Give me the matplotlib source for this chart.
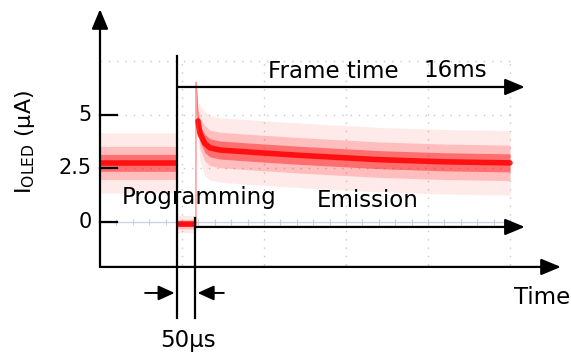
import numpy as np
import matplotlib.pyplot as plt

plt.rcParams['font.family'] = ['DejaVu Sans']

# Trace (time in grid divisions, current in uA)
trace_t = [0.0, 0.94, 0.94, 1.17, 1.17, 1.195, 1.22, 1.28, 1.34, 1.46, 1.83, 2.44, 3.4, 4.2, 5.0]
trace_i = [2.75, 2.75, -0.1, -0.1, 6.5, 4.7, 4.1, 3.65, 3.45, 3.35, 3.25, 3.1, 2.9, 2.8, 2.75]
trace_noise = [1.4, 1.4, 0.4, 0.4, 0.2, 0.9, 1.3, 1.5, 1.5, 1.5, 1.5, 1.5, 1.5, 1.5, 1.5]

ytick_vals = [0, 2.5, 5]
ytick_labels = ['0', '2.5', '5']
prog_start, prog_end = 0.94, 1.16
frame_end = 5.18

fig = plt.figure(figsize=(5.71, 3.57), dpi=100)
ax = fig.add_axes([0, 0, 1, 1])
# 82 px per division in x, 21.5 px per uA in y
ax.set_xlim(-100 / 82, 471 / 82)
ax.set_ylim(-135 / 21.5, 222 / 21.5)
ax.axis('off')

# oscilloscope grid
grid_c = '#c8c8c8'
for gx in [1, 2, 3, 4, 5]:
    ax.plot([gx, gx], [-2.0, 7.6], color=grid_c, lw=1, ls=(0, (1, 5)), zorder=1)
for gy in [2.5, 5, 7.5]:
    ax.plot([0, 5], [gy, gy], color=grid_c, lw=1, ls=(0, (1, 5)), zorder=1)
ax.plot([0, 5], [0, 0], color='#cfd2e2', lw=1, zorder=1)
minor = np.arange(0, 5.01, 0.2)
ax.vlines(minor, -0.13, 0.13, color='#c8cad8', lw=0.8, zorder=1)

# noisy current trace drawn as envelope bands
t = np.array(trace_t)
i = np.array(trace_i)
n = np.array(trace_noise)
ax.fill_between(t, i - n, i + n, color='#ff4040', alpha=0.11, lw=0, zorder=2)
ax.fill_between(t, i - 0.55 * n, i + 0.55 * n, color='#ff2020', alpha=0.22, lw=0, zorder=2)
ax.fill_between(t, i - 0.28 * n, i + 0.28 * n, color='#ff1010', alpha=0.45, lw=0, zorder=2)
# faint switching edges and spike, solid core on each level
ax.plot(t[1:6], i[1:6], color='#ff3030', lw=1.2, alpha=0.45, zorder=3)
for a, b in [(0, 2), (2, 4)]:
    ax.plot(t[a:b], i[a:b], color='#ff0000', lw=4, alpha=0.85,
            solid_capstyle='butt', zorder=3)
ax.plot(t[5:], i[5:], color='#ff0000', lw=4, alpha=0.85,
        solid_capstyle='round', solid_joinstyle='round', zorder=3)

# axes with arrows
head = dict(arrowstyle='-|>,head_length=0.6,head_width=0.25', color='black',
            lw=1.6, mutation_scale=20, shrinkA=0, shrinkB=0)
ax.annotate('', xy=(0, 9.9), xytext=(0, -2.09), arrowprops=head, zorder=5)
ax.annotate('', xy=(5.62, -2.09), xytext=(0, -2.09), arrowprops=head, zorder=5)

for v, lab in zip(ytick_vals, ytick_labels):
    ax.plot([0, 0.21], [v, v], color='black', lw=1.6, zorder=5)
    ax.text(-0.1, v, lab, ha='right', va='center', fontsize=15)

ax.text(-0.92, 3.7, r'I$_{\mathrm{OLED}}$ (µA)', rotation=90, ha='center', va='center', fontsize=16)

# frame / programming / emission markers
ax.plot([prog_start, prog_start], [7.7, -4.45], color='black', lw=1.6, zorder=5)
ax.plot([prog_end, prog_end], [0.2, -4.45], color='black', lw=1.6, zorder=5)
ax.annotate('', xy=(frame_end, 6.28), xytext=(prog_start, 6.28), arrowprops=head, zorder=5)
ax.annotate('', xy=(frame_end, -0.23), xytext=(prog_end, -0.23), arrowprops=head, zorder=5)

small = dict(arrowstyle='-|>,head_length=0.55,head_width=0.25', color='black',
             lw=1.4, mutation_scale=18, shrinkA=0, shrinkB=0)
ax.annotate('', xy=(prog_start - 0.03, -3.3), xytext=(0.55, -3.3), arrowprops=small, zorder=5)
ax.annotate('', xy=(prog_end + 0.03, -3.3), xytext=(1.51, -3.3), arrowprops=small, zorder=5)

fs = 16.5
ax.text(2.85, 7.02, 'Frame time', ha='center', va='center', fontsize=fs)
ax.text(4.33, 7.05, '16ms', ha='center', va='center', fontsize=fs)
ax.text(1.21, 1.12, 'Programming', ha='center', va='center', fontsize=fs)
ax.text(3.26, 1.02, 'Emission', ha='center', va='center', fontsize=fs)
ax.text(5.39, -3.5, 'Time', ha='center', va='center', fontsize=fs)
ax.text(1.07, -5.5, '50µs', ha='center', va='center', fontsize=fs)

fig.savefig('out.png', dpi=100)
